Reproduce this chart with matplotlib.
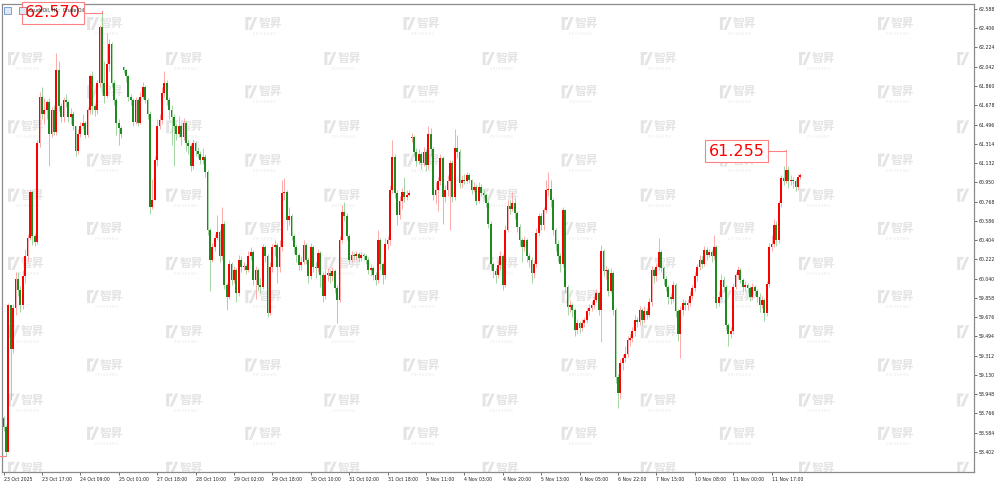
import numpy as np
import matplotlib.pyplot as plt
from matplotlib.patches import Polygon, Rectangle

# hourly candles, CrudeOil H1
closes = [
    58.64, 58.40, 59.79, 59.37, 59.76, 60.04, 59.93, 59.79, 60.06, 60.25,
    60.42, 60.86, 60.44, 60.39, 61.32, 61.76, 61.60, 61.63, 61.71, 61.41,
    61.63, 61.43, 62.01, 61.67, 61.57, 61.73, 61.71, 61.57, 61.60, 61.48,
    61.25, 61.41, 61.48, 61.51, 61.40, 61.63, 61.95, 61.67, 61.63, 61.89,
    62.42, 61.89, 61.77, 62.07, 62.26, 61.89, 61.73, 61.51, 61.46, 61.41,
    62.01, 61.95, 61.76, 61.73, 61.52, 61.73, 61.51, 61.76, 61.85, 61.73,
    61.60, 60.72, 60.78, 61.16, 61.48, 61.54, 61.79, 61.89, 61.73, 61.63,
    61.57, 61.48, 61.41, 61.48, 61.38, 61.51, 61.32, 61.29, 61.10, 61.32,
    61.25, 61.22, 61.16, 61.19, 61.05, 60.50, 60.22,
    60.34, 60.42, 60.48, 60.25, 60.56, 59.98, 59.87, 60.18, 60.03, 60.12,
    59.90, 60.22, 60.15, 60.16, 60.12, 60.25, 60.29, 60.03, 60.12, 59.98,
    59.96, 60.34, 60.25, 59.71, 60.15, 60.34, 60.36, 60.15, 60.34, 60.85,
    60.86, 60.59, 60.63, 60.44, 60.34, 60.26, 60.17, 60.20, 60.36, 60.22,
    60.06, 60.34, 60.15, 60.14, 60.28, 60.07, 59.88, 60.07, 60.09, 60.06,
    60.11, 59.95, 59.84, 60.40, 60.67, 60.63, 60.44, 60.22, 60.26, 60.25,
    60.27, 60.23, 60.26, 60.25, 60.22, 60.12, 60.14, 60.07, 60.03, 60.40,
    60.18, 60.07, 60.37, 60.40, 60.88, 61.19, 60.85, 60.64, 60.77, 60.86,
    60.81, 60.83,
    60.85, 61.38, 61.24, 61.15, 61.22, 61.13, 61.24, 61.11, 61.41, 61.26,
    60.83, 60.88, 60.96, 61.18, 60.81, 60.88, 60.96, 61.13, 60.81, 61.27,
    61.24, 60.94, 60.97, 60.96, 61.02, 60.97, 60.88, 60.91, 60.77, 60.91,
    60.85, 60.83, 60.75, 60.56, 60.18, 60.11, 60.07, 60.17, 60.25, 59.98,
    60.50, 60.73, 60.70, 60.75, 60.66, 60.53, 60.40, 60.34, 60.40, 60.25,
    60.22, 60.09, 60.18, 60.47, 60.63, 60.55, 60.69, 60.88, 60.89, 60.78,
    60.50, 60.37, 60.25, 60.18, 60.69, 59.96, 59.77, 59.79, 59.74, 59.55,
    59.62, 59.57, 59.62, 59.65, 59.73, 59.76, 59.79, 59.84, 59.90, 59.74,
    60.30, 60.11, 60.12,
    59.92, 60.09, 59.74, 59.11, 58.96, 59.24, 59.29, 59.33, 59.46, 59.48,
    59.54, 59.65, 59.63, 59.74, 59.65, 59.73, 59.70, 59.82, 60.12, 60.06,
    60.15, 60.29, 60.14, 60.04, 59.96, 59.87, 59.85, 59.98, 59.73, 59.52,
    59.74, 59.81, 59.79, 59.81, 59.88, 59.95, 60.06, 60.15, 60.22, 60.18,
    60.31, 60.26, 60.29, 60.25, 60.34, 59.81, 59.87, 60.03, 59.96, 59.60,
    59.52, 59.54, 59.96, 60.07, 60.12, 60.03, 59.96, 59.98, 59.95, 59.87,
    59.96, 59.92, 59.87, 59.79, 59.84, 59.71, 59.99, 60.34, 60.37, 60.55,
    60.40, 60.75, 60.99, 60.96, 61.07, 60.96, 60.97, 60.96, 60.91, 61.00,
    61.02,
]
highs = [
    58.74, 58.66, 59.81, 59.63, 59.80, 60.10, 60.10, 59.97, 60.12, 60.32,
    60.46, 60.88, 60.88, 60.47, 61.35, 61.80, 61.85, 61.75, 61.73, 61.75,
    61.66, 61.68, 62.17, 62.10, 61.70, 61.76, 61.78, 61.73, 61.65, 61.62,
    61.48, 61.45, 61.52, 61.60, 61.53, 61.66, 61.97, 62.00, 61.70, 61.92,
    62.44, 62.57, 62.10, 62.36, 62.30, 62.28, 61.92, 61.75, 61.55, 61.48,
    62.05, 62.02, 61.96, 61.78, 61.75, 61.76, 61.75, 61.80, 61.90, 61.87,
    61.75, 61.62, 60.98, 61.20, 61.55, 61.60, 61.85, 62.00, 61.92, 61.76,
    61.68, 61.60, 61.50, 61.58, 61.50, 61.56, 61.53, 61.36, 61.32, 61.36,
    61.34, 61.28, 61.25, 61.27, 61.22, 61.07, 60.52,
    60.38, 60.46, 60.64, 60.50, 60.72, 60.58, 60.00, 60.22, 60.20, 60.16,
    60.14, 60.26, 60.25, 60.20, 60.18, 60.30, 60.34, 60.31, 60.16, 60.14,
    60.05, 60.37, 60.36, 60.27, 60.20, 60.37, 60.40, 60.38, 60.40, 60.97,
    60.99, 60.88, 60.72, 60.65, 60.46, 60.36, 60.28, 60.25, 60.40, 60.38,
    60.24, 60.38, 60.36, 60.20, 60.32, 60.30, 60.10, 60.12, 60.14, 60.12,
    60.15, 60.13, 59.98, 60.44, 60.74, 60.76, 60.66, 60.46, 60.30, 60.29,
    60.30, 60.29, 60.29, 60.28, 60.27, 60.24, 60.18, 60.16, 60.10, 60.50,
    60.42, 60.20, 60.42, 60.44, 60.92, 61.35, 61.22, 60.88, 60.82, 60.90,
    61.00, 60.88,
    60.88, 61.42, 61.40, 61.27, 61.26, 61.24, 61.28, 61.26, 61.48, 61.46,
    61.28, 60.95, 61.00, 61.22, 61.20, 60.92, 61.02, 61.16, 61.16, 61.45,
    61.40, 61.26, 61.02, 61.03, 61.05, 61.04, 60.98, 60.95, 60.93, 60.95,
    60.93, 60.88, 60.85, 60.77, 60.58, 60.20, 60.14, 60.22, 60.30, 60.27,
    60.55, 60.78, 60.78, 60.86, 60.80, 60.68, 60.56, 60.42, 60.44, 60.42,
    60.28, 60.24, 60.22, 60.52, 60.66, 60.66, 60.72, 60.97, 61.05, 60.97,
    60.80, 60.52, 60.40, 60.28, 60.72, 60.70, 59.98, 59.84, 59.81, 59.76,
    59.66, 59.64, 59.66, 59.68, 59.76, 59.80, 59.83, 59.88, 59.94, 59.92,
    60.36, 60.32, 60.16,
    60.14, 60.14, 60.11, 59.76, 59.14, 59.28, 59.33, 59.40, 59.50, 59.52,
    59.58, 59.70, 59.68, 59.78, 59.76, 59.78, 59.76, 59.86, 60.16, 60.14,
    60.18, 60.42, 60.31, 60.16, 60.06, 59.98, 59.90, 60.02, 60.00, 59.75,
    59.78, 59.85, 59.84, 59.85, 59.92, 59.98, 60.10, 60.18, 60.26, 60.25,
    60.35, 60.34, 60.32, 60.31, 60.45, 60.36, 59.92, 60.08, 60.06, 59.98,
    59.62, 59.58, 60.00, 60.10, 60.16, 60.14, 60.05, 60.02, 60.00, 59.97,
    60.00, 59.98, 59.94, 59.90, 59.88, 59.86, 60.02, 60.38, 60.45, 60.60,
    60.58, 60.78, 61.02, 61.10, 61.255, 61.10, 61.02, 61.00, 60.98, 61.03,
    61.04,
]
lows = [
    58.60, 58.36, 58.50, 58.89, 59.34, 59.70, 59.88, 59.72, 59.75, 60.00,
    60.20, 60.40, 60.36, 60.35, 60.37, 61.28, 61.55, 61.50, 61.55, 61.10,
    61.38, 61.40, 61.40, 61.62, 61.52, 61.52, 61.66, 61.52, 61.50, 61.44,
    61.20, 61.22, 61.38, 61.45, 61.37, 61.38, 61.60, 61.60, 61.58, 61.60,
    61.85, 61.78, 61.70, 61.75, 62.00, 61.85, 61.68, 61.40, 61.30, 61.37,
    61.98, 61.90, 61.72, 61.68, 61.48, 61.50, 61.48, 61.50, 61.74, 61.70,
    61.55, 60.65, 60.70, 60.78, 61.10, 61.45, 61.50, 61.76, 61.68, 61.55,
    61.30, 61.10, 61.35, 61.38, 61.30, 61.35, 61.25, 61.22, 61.06, 61.08,
    61.20, 61.18, 61.12, 61.12, 61.00, 60.45, 59.92,
    60.20, 60.30, 60.40, 60.20, 60.22, 59.94, 59.74, 59.85, 59.98, 60.00,
    59.82, 59.88, 60.10, 60.12, 60.08, 60.10, 60.22, 59.98, 59.85, 59.92,
    59.90, 59.94, 60.20, 59.68, 59.70, 60.10, 60.25, 60.00, 60.10, 60.30,
    60.78, 60.50, 60.55, 60.40, 60.28, 60.20, 60.12, 60.12, 60.18, 60.18,
    60.00, 60.04, 60.10, 60.05, 60.10, 59.96, 59.82, 59.85, 60.02, 60.00,
    60.02, 59.90, 59.62, 59.82, 60.38, 60.58, 60.40, 60.18, 60.20, 60.22,
    60.22, 60.20, 60.21, 60.22, 60.18, 60.08, 60.06, 60.03, 59.98, 60.00,
    60.12, 59.99, 60.04, 60.32, 60.36, 60.85, 60.80, 60.55, 60.60, 60.70,
    60.76, 60.78,
    60.82, 61.33, 61.20, 61.10, 61.12, 61.08, 61.10, 61.06, 61.08, 61.20,
    60.78, 60.75, 60.68, 60.92, 60.56, 60.76, 60.82, 60.50, 60.76, 60.78,
    61.18, 60.90, 60.90, 60.93, 60.94, 60.94, 60.84, 60.86, 60.74, 60.75,
    60.82, 60.80, 60.72, 60.52, 60.12, 60.05, 60.00, 60.05, 60.12, 59.93,
    59.96, 60.48, 60.65, 60.68, 60.60, 60.48, 60.35, 60.20, 60.30, 60.20,
    60.15, 60.00, 60.05, 60.15, 60.44, 60.50, 60.50, 60.66, 60.82, 60.72,
    60.45, 60.30, 60.20, 60.10, 60.15, 59.90, 59.70, 59.72, 59.68, 59.50,
    59.52, 59.53, 59.54, 59.58, 59.62, 59.70, 59.73, 59.76, 59.82, 59.70,
    59.44, 60.06, 60.04,
    59.88, 59.90, 59.70, 59.05, 58.819, 58.90, 59.18, 59.25, 59.30, 59.40,
    59.44, 59.50, 59.58, 59.60, 59.60, 59.62, 59.66, 59.68, 59.78, 60.00,
    60.02, 60.12, 60.10, 59.98, 59.92, 59.80, 59.80, 59.82, 59.68, 59.45,
    59.29, 59.70, 59.74, 59.74, 59.78, 59.85, 59.92, 60.02, 60.12, 60.14,
    60.16, 60.22, 60.24, 60.20, 60.22, 59.76, 59.78, 59.85, 59.92, 59.55,
    59.40, 59.48, 59.52, 59.94, 60.04, 60.00, 59.92, 59.92, 59.90, 59.83,
    59.85, 59.88, 59.82, 59.72, 59.76, 59.64, 59.69, 59.96, 60.30, 60.34,
    60.35, 60.38, 60.72, 60.92, 60.94, 60.90, 60.92, 60.90, 60.87, 60.88,
    60.98,
]
first_open = 58.72
gap_opens = {50: 62.04, 170: 61.37}   # session opens after a gap

time_labels = [
    "23 Oct 2025", "23 Oct 17:00", "24 Oct 09:00", "25 Oct 01:00", "27 Oct 18:00",
    "28 Oct 10:00", "29 Oct 02:00", "29 Oct 18:00", "30 Oct 10:00", "31 Oct 02:00",
    "31 Oct 18:00", "3 Nov 11:00", "4 Nov 03:00", "4 Nov 20:00", "5 Nov 13:00",
    "6 Nov 05:00", "6 Nov 22:00", "7 Nov 15:00", "10 Nov 08:00", "11 Nov 00:00",
    "11 Nov 17:00",
]
price_ticks = [58.402, 58.584, 58.766, 58.948, 59.130, 59.312, 59.494, 59.676,
               59.858, 60.040, 60.222, 60.404, 60.586, 60.768, 60.950, 61.132,
               61.314, 61.496, 61.678, 61.860, 62.042, 62.224, 62.406, 62.588]

closes = np.array(closes)
highs = np.array(highs)
lows = np.array(lows)
opens = np.r_[first_open, closes[:-1]]
for k, v in gap_opens.items():
    opens[k] = v
x = np.arange(len(closes))
up = closes >= opens

W, H = 998, 487
fig = plt.figure(figsize=(W / 100, H / 100), dpi=100)
ax = fig.add_axes([2 / W, 1 - 472 / H, 972 / W, 468 / H])
ax.set_facecolor("none")

def fxy(px, py):
    return px / W, 1 - py / H

# watermark tiles, kept inside the plot frame
wm = "#e4e4e4"
for k in range(13):
    x0 = 8 + 79.1 * k
    rows = np.arange(52, 480, 68.3) if k % 2 == 0 else np.arange(17, 480, 68.3)
    for y0 in rows:
        p1 = [fxy(x0, y0), fxy(x0 + 7, y0), fxy(x0 + 5.5, y0 + 3), fxy(x0 + 3, y0 + 3),
              fxy(x0 + 3, y0 + 13), fxy(x0, y0 + 13)]
        p2 = [fxy(x0 + 9, y0), fxy(x0 + 12, y0), fxy(x0 + 6.5, y0 + 13), fxy(x0 + 3.5, y0 + 13)]
        for p in (p1, p2):
            ax.add_patch(Polygon(p, closed=True, transform=fig.transFigure,
                                 fc=wm, ec="none", zorder=0))
        if x0 + 13 < 960:
            ax.text(*fxy(x0 + 13, y0 + 6.5), "智昇", fontsize=8.5, fontweight="bold",
                    family="Noto Sans CJK SC", color=wm, va="center", ha="left",
                    transform=fig.transFigure, zorder=0)
        if y0 + 17 < 468 and x0 + 35 < 970:
            ax.text(*fxy(x0 + 19, y0 + 17), "Z H I S H E N G", fontsize=2.2, color=wm,
                    ha="center", va="center", transform=fig.transFigure, zorder=0)

# candles
ax.vlines(x[up], lows[up], highs[up], color="#ff9c9c", lw=0.6, zorder=2)
ax.vlines(x[~up], lows[~up], highs[~up], color="#94cf94", lw=0.6, zorder=2)
body_lo = np.minimum(opens, closes)
body_h = np.maximum(np.abs(closes - opens), 0.01)
ax.bar(x[up], body_h[up], bottom=body_lo[up], width=0.72, color="#ff0000", lw=0, zorder=3)
ax.bar(x[~up], body_h[~up], bottom=body_lo[~up], width=0.72, color="#1f8a1f", lw=0, zorder=3)

ax.set_xlim(-0.625, -0.625 + 972 / 2.4)
ax.set_ylim(58.212, 62.635)

ax.yaxis.tick_right()
ax.set_yticks(price_ticks)
ax.set_yticklabels([f"{v:.3f}" for v in price_ticks])
ax.set_xticks(np.arange(len(time_labels)) * 16)
ax.set_xticklabels(time_labels)
for lab in ax.get_xticklabels():
    lab.set_ha("left")
ax.tick_params(axis="both", labelsize=3.3, length=2.5, width=0.6, color="#555555",
               labelcolor="#222222", pad=1)
for s in ax.spines.values():
    s.set_color("#8a8a8a")
    s.set_linewidth(0.9)

# header
for ix, c in ((4, "#4a7fd0"), (19, "#d04a4a")):
    fig.patches.append(Rectangle(fxy(ix, 14), 7 / W, 7 / H, transform=fig.transFigure,
                                 fc="#dfe8f5", ec=c, lw=0.5, zorder=4))
fig.text(*fxy(29, 10), "CrudeOil, H1:  Crude Oil", fontsize=3.3, color="#222222",
         va="center", ha="left", zorder=4)

# price markers
def price_tag(i, val, dx, dy):
    ax.annotate(f"{val:.3f}", xy=(i, val), xytext=(dx, dy), textcoords="offset pixels",
                ha="center", va="center", fontsize=11.5, color="#ff0000", zorder=6,
                bbox=dict(boxstyle="square,pad=0.22", fc="white", ec="#ff8080", lw=0.8),
                arrowprops=dict(arrowstyle="-", color="#ff8080", lw=0.8, shrinkA=0, shrinkB=0,
                                connectionstyle="angle,angleA=0,angleB=90,rad=0"),
                annotation_clip=False)

i_hi = int(np.argmax(highs))
i_lo = int(np.argmin(lows))
i_last = len(highs) - 20 + int(np.argmax(highs[-20:]))
price_tag(i_hi, highs[i_hi], -49, -2)
price_tag(i_lo, lows[i_lo], -50, 0)
price_tag(i_last, highs[i_last], -49, -1)

fig.savefig("out.png", dpi=100)
